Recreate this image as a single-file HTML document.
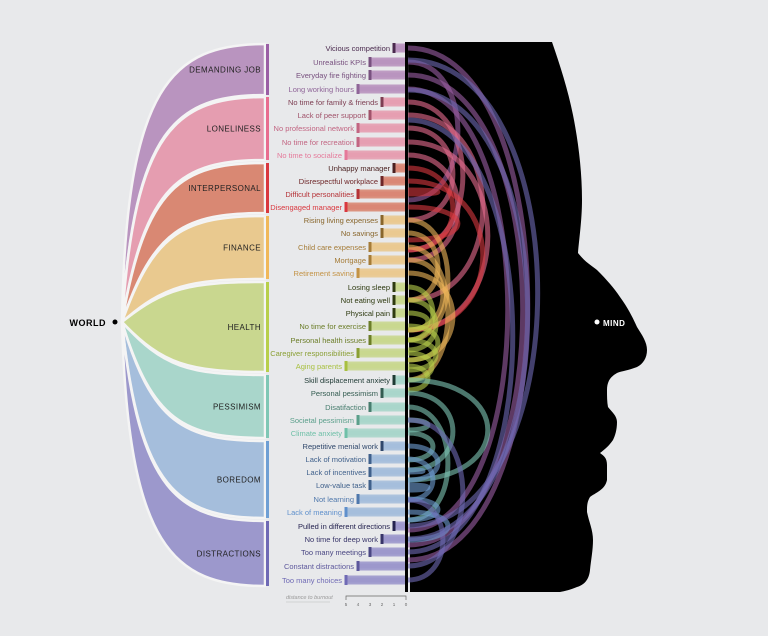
<!DOCTYPE html>
<html><head><meta charset="utf-8"><style>
html,body{margin:0;padding:0;background:#e8e9eb;}
svg{display:block;}
</style></head><body>
<svg id="s" width="768" height="636" viewBox="0 0 768 636" xmlns="http://www.w3.org/2000/svg" font-family="Liberation Sans, sans-serif">
<rect width="768" height="636" fill="#e8e9eb"/>
<g id="fan"></g>
<path d="M408,42 L552,42 C560,65 568,90 573,115 C578,140 582,170 582,200 C582,220 579,240 578,253 C585,262 592,266 597,270 C607,280 614,288 620,297 C628,308 633,318 637,327 C642,335 647,342 647,350 C647,358 643,364 637,367 C630,370 622,371 617,373 C610,377 607,382 607,390 C607,396 607,402 608,407 C612,412 617,416 617,422 C617,430 615,436 613,440 C609,446 604,450 600,453 C604,456 607,458 607,465 L607,480 C605,490 595,493 590,497 C587,502 587,506 587,512 C589,522 593,530 593,540 C593,550 591,560 590,570 C589,580 584,585 577,587 C570,590 565,591 560,592 L410,592 Z" fill="#000"/>
<g id="arcs"></g>
<g id="list"></g>
<rect x="405" y="42" width="3" height="550" fill="#000"/>
<circle cx="115" cy="322" r="2.5" fill="#000"/>
<text x="106" y="326" text-anchor="end" font-size="9" font-family="Liberation Sans Narrow, Liberation Sans, sans-serif" font-weight="bold" letter-spacing="0.5">WORLD</text>
<circle cx="597" cy="322" r="2.5" fill="#fff"/>
<text x="603" y="326" font-size="8" fill="#fff" font-family="Liberation Sans Narrow, Liberation Sans, sans-serif" font-weight="bold" letter-spacing="0.5">MIND</text>
<text x="286" y="599" font-size="5.5" fill="#999" font-style="italic">distance to burnout</text>
<line x1="286" y1="602" x2="330" y2="602" stroke="#bbb" stroke-width="0.5"/>
<path d="M346,600 V596 H406 V600" fill="none" stroke="#666" stroke-width="0.7"/>
<g font-size="4.5" fill="#666" text-anchor="middle">
<text x="346" y="606">5</text><text x="358" y="606">4</text><text x="370" y="606">3</text><text x="382" y="606">2</text><text x="394" y="606">1</text><text x="406" y="606">0</text></g>
</svg>
<script>
var NS="http://www.w3.org/2000/svg";
function el(t,a,p,txt){var e=document.createElementNS(NS,t);for(var k in a)e.setAttribute(k,a[k]);if(txt)e.textContent=txt;p.appendChild(e);return e;}
var cats=[
["DEMANDING JOB",44,95,"#b994bf","#9b5fa5","#4a2a4e","#a678b0"],
["LONELINESS",97,160,"#e59db0","#e86d8f","#5a2a3a","#e5799a"],
["INTERPERSONAL",163,213,"#d98873","#d9383f","#4a2020","#d9383f"],
["FINANCE",216,279,"#e9c98f","#f0b85a","#6a5020","#e0a850"],
["HEALTH",282,372,"#c9d78f","#b8cf4b","#2e3a10","#a8c040"],
["PESSIMISM",375,438,"#a9d6cb","#7fc7b5","#1f3a34","#6fc0a8"],
["BOREDOM",441,518,"#a5bedc","#6f9fd4","#1f2f4a","#5f90cc"],
["DISTRACTIONS",521,586,"#9c98cc","#6f6ab5","#252350","#6f6ab5"]];
var fan=document.getElementById('fan');
var X0=122,Y0=322,XE=265;
function cps(y){var f=Math.abs(y-Y0)/278;return [X0+4+45*(1-f),Y0+(y-Y0)*0.85,X0+50+20*(1-f),y];}
cats.forEach(function(c){
 var a=cps(c[1]),b=cps(c[2]);
 var d="M"+X0+","+Y0+" C"+a[0]+","+a[1]+" "+a[2]+","+a[3]+" "+XE+","+c[1]+" L"+XE+","+c[2]+" C"+b[2]+","+b[3]+" "+b[0]+","+b[1]+" "+X0+","+Y0+"Z";
 el('path',{d:d,fill:c[3],stroke:"#f4f4f4","stroke-width":"2.5","stroke-linejoin":"round"},fan);
 el('rect',{x:266,y:c[1],width:3,height:c[2]-c[1],fill:c[4]},fan);
 el('text',{x:261,y:(c[1]+c[2])/2+3,"font-size":"8","text-anchor":"end","font-family":"Liberation Sans Narrow, Liberation Sans, sans-serif","letter-spacing":"0.4",fill:"#222"},fan,c[0]);
});
var items=[
[0,"Vicious competition",48,1,560,120],[0,"Unrealistic KPIs",62,3,200,50],[0,"Everyday fire fighting",75,3,545,115],[0,"Long working hours",89,4,530,100],
[1,"No time for family & friends",102,2,250,55],[1,"Lack of peer support",115,3,300,75],[1,"No professional network",128,4,220,45],[1,"No time for recreation",142,4,330,80],[1,"No time to socialize",155,5,260,50],
[2,"Unhappy manager",168,1,250,45],[2,"Disrespectful workplace",181,2,330,75],[2,"Difficult personalities",194,4,190,30],[2,"Disengaged manager",207,5,240,50],
[3,"Rising living expenses",220,2,340,40],[3,"No savings",233,2,300,30],[3,"Child care expenses",247,3,380,40],[3,"Mortgage",260,3,330,35],[3,"Retirement saving",273,4,360,45],
[4,"Losing sleep",287,1,340,25],[4,"Not eating well",300,1,350,28],[4,"Physical pain",313,1,330,20],[4,"No time for exercise",326,3,360,30],[4,"Personal health issues",340,3,370,28],[4,"Caregiver responsibilities",353,4,380,24],[4,"Aging parents",366,5,390,20],
[5,"Skill displacement anxiety",380,1,480,80],[5,"Personal pessimism",393,2,470,45],[5,"Disatifaction",407,3,520,40],[5,"Societal pessimism",420,4,430,20],[5,"Climate anxiety",433,5,460,25],
[6,"Repetitive menial work",446,2,480,30],[6,"Lack of motivation",459,3,500,25],[6,"Lack of incentives",472,3,470,15],[6,"Low-value task",485,3,490,20],[6,"Not learning",499,4,520,30],[6,"Lack of meaning",512,5,540,40],
[7,"Pulled in different directions",526,1,60,130],[7,"No time for deep work",539,2,90,120],[7,"Too many meetings",552,3,120,105],[7,"Constant distractions",566,4,420,55],[7,"Too many choices",580,5,500,35]];
function mix(a,b,t){function h(s){return[parseInt(s.substr(1,2),16),parseInt(s.substr(3,2),16),parseInt(s.substr(5,2),16)];}var A=h(a),B=h(b);return"rgb("+A.map(function(v,i){return Math.round(v+(B[i]-v)*t);}).join(",")+")";}
var arcs=document.getElementById('arcs'),list=document.getElementById('list');
items.forEach(function(it){
 var c=cats[it[0]],y=it[2],tx=406-it[3]*12,ye=it[4],rx=it[5]*1.33;
 var t=(it[3]-1)/4;
 var col=mix(c[5],c[6],t);
 el('path',{d:"M"+tx+","+y+" L408,"+y+" C"+(408+rx)+","+y+" "+(408+rx)+","+ye+" 408,"+ye,fill:"none",stroke:c[4],"stroke-width":"5","stroke-opacity":"0.6"},arcs);
 el('path',{d:"M"+tx+","+y+" L408,"+y,stroke:c[3],"stroke-width":"9","stroke-opacity":"0.9"},list);
 el('rect',{x:tx-1.5,y:y-5,width:3,height:10,fill:col},list);
 el('text',{x:tx-4,y:y+2.8,"font-size":"7.5","text-anchor":"end",fill:col},list,it[1]);
});
</script>
</body></html>
